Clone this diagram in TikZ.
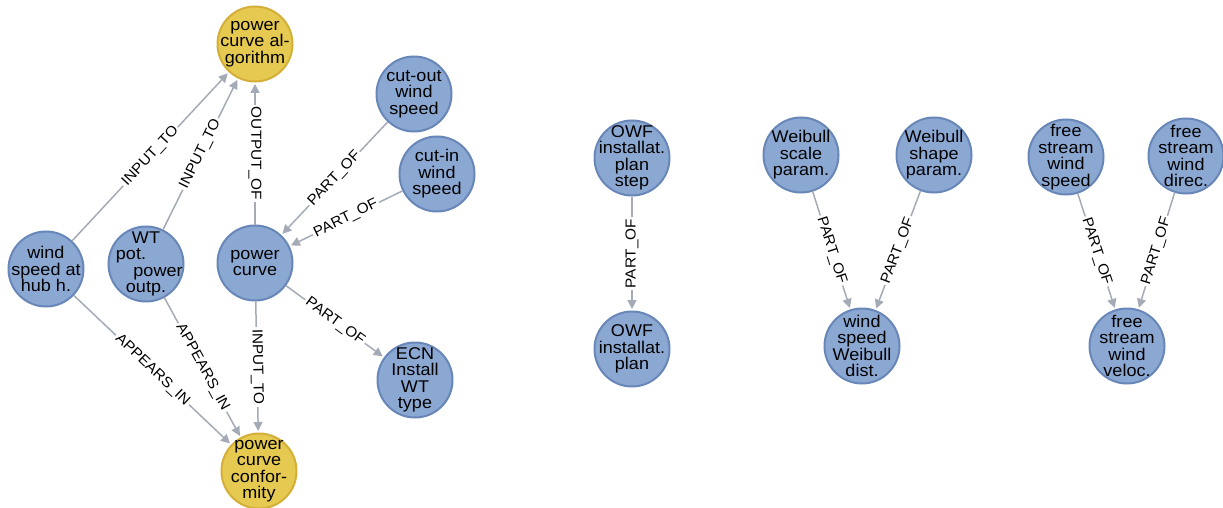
\documentclass[tikz,border=0pt]{standalone}
\usepackage{fontspec}
\setmainfont[FakeStretch=1.06]{Liberation Sans}
\usepackage{tikz}
\usetikzlibrary{arrows.meta}
\definecolor{nodeblue}{RGB}{139,168,211}
\definecolor{nodeblueline}{RGB}{104,135,184}
\definecolor{nodegold}{RGB}{230,201,80}
\definecolor{nodegoldline}{RGB}{212,175,55}
\definecolor{linkgray}{RGB}{165,171,182}

\begin{document}
\begin{tikzpicture}[x=1pt,y=-1pt,
    concept/.style={circle, draw=nodeblueline, fill=nodeblue, line width=2pt,
      minimum size=75pt, inner sep=-20pt, align=center,
      font=\fontsize{17}{16.5}\selectfont},
    goal/.style={concept, draw=nodegoldline, fill=nodegold},
    lbl/.style={fill=white, inner sep=2pt, font=\fontsize{14.5}{14.5}\selectfont},
    rel/.style={lbl, sloped},
    link/.style={draw=linkgray, line width=1.5pt,
      -{Triangle[length=9pt,width=9pt]}, shorten >=1.5pt}]
  \useasboundingbox (0,0) rectangle (1223,508);

  % left group
  \node[goal] (pcalgo) at (255,44) {power\\curve al-\\gorithm};
  \node[concept] (cutout) at (414,94) {cut-out\\wind\\speed};
  \node[concept] (cutin) at (437,174) {cut-in\\wind\\speed};
  \node[concept] (hubspeed) at (46,269) {wind\\speed at\\hub h.};
  \node[concept] (wtpower) at (146,264) {WT\\\mbox{pot.\kern30pt}\\\mbox{\kern24pt power}\\outp.};
  \node[concept] (pcurve) at (255,263) {power\\curve};
  \node[concept] (ecn) at (415,380) {ECN\\Install\\WT\\type};
  \node[goal] (pcconf) at (259,471) {power\\curve\\confor-\\mity};

  \draw[link] (hubspeed) -- node[rel] {INPUT\_TO} (pcalgo);
  \draw[link] (wtpower) -- node[rel] {INPUT\_TO} (pcalgo);
  \draw[link] (pcurve) -- node[lbl, rotate=-90] {OUTPUT\_OF} (pcalgo);
  \draw[link] (cutout) -- node[rel] {PART\_OF} (pcurve);
  \draw[link] (cutin) -- node[rel] {PART\_OF} (pcurve);
  \draw[link] (pcurve) -- node[rel] {PART\_OF} (ecn);
  \draw[link] (pcurve) -- node[rel] {INPUT\_TO} (pcconf);
  \draw[link] (hubspeed) -- node[rel] {APPEARS\_IN} (pcconf);
  \draw[link] (wtpower) -- node[rel] {APPEARS\_IN} (pcconf);

  % right groups
  \node[concept] (owfstep) at (632,158) {OWF\\installat.\\plan\\step};
  \node[concept] (owfplan) at (632,349) {OWF\\installat.\\plan};
  \node[concept] (wbscale) at (801,155) {Weibull\\scale\\param.};
  \node[concept] (wbshape) at (934,155) {Weibull\\shape\\param.};
  \node[concept] (wbdist) at (862,346) {wind\\speed\\Weibull\\dist.};
  \node[concept] (fsspeed) at (1066,157) {free\\stream\\wind\\speed};
  \node[concept] (fsdir) at (1186,156) {free\\stream\\wind\\direc.};
  \node[concept] (fsvel) at (1127,346) {free\\stream\\wind\\veloc.};

  \draw[link] (owfstep) -- node[lbl, rotate=90] {PART\_OF} (owfplan);
  \draw[link] (wbscale) -- node[rel] {PART\_OF} (wbdist);
  \draw[link] (wbshape) -- node[rel] {PART\_OF} (wbdist);
  \draw[link] (fsspeed) -- node[rel] {PART\_OF} (fsvel);
  \draw[link] (fsdir) -- node[rel] {PART\_OF} (fsvel);
\end{tikzpicture}
\end{document}
